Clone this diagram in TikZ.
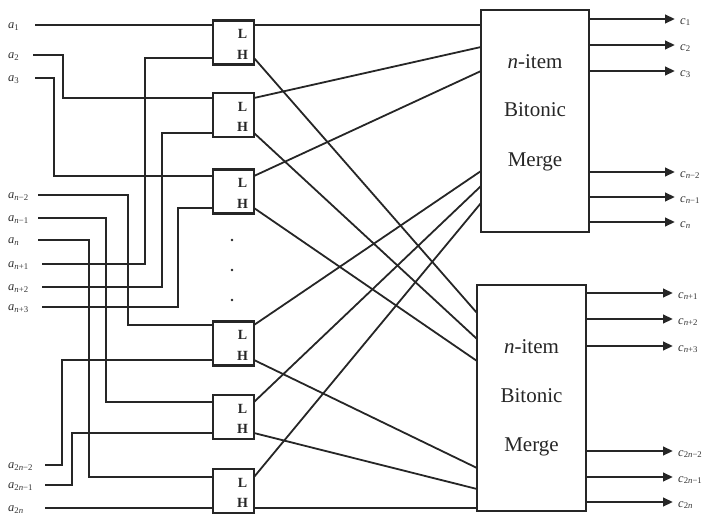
\documentclass[tikz,border=0pt]{standalone}
\usepackage{fontspec}
\setmainfont{Liberation Serif}
\usetikzlibrary{arrows.meta}
\newcommand\myN{{\itshape n}}
\newcommand\labA[1]{{\itshape a}\textsubscript{#1}}
\newcommand\labC[1]{{\itshape c}\textsubscript{#1}}
\begin{document}
\begin{tikzpicture}[x=1pt,y=-1pt,
  wire/.style={line width=1.8pt,black!85},
  cmp/.style={draw,line width=2.2pt,black!85,minimum width=41pt,minimum height=44pt,inner sep=0pt},
  mrg/.style={draw,line width=2.6pt,black!85,inner sep=0pt},
  inl/.style={anchor=base west,inner sep=0pt,font=\fontsize{12.5}{14}\selectfont,black!80},
  outl/.style={anchor=base west,inner sep=0pt,font=\fontsize{12.5}{14}\selectfont,black!80},
  lh/.style={font=\fontsize{14}{16}\selectfont\bfseries,inner sep=0pt,black!85},
  mtext/.style={font=\fontsize{21}{24}\selectfont,inner sep=0pt,black!85},
  outarr/.style={line width=2.4pt,black!85,-{Triangle[length=10pt,width=8.5pt]}},
  dot/.style={circle,fill=black!85,inner sep=0pt,minimum size=2.8pt}
]
\useasboundingbox (0,0) rectangle (706,514);

% comparator boxes
\foreach \i/\y in {1/42.5,2/115,3/191.5,4/343.5,5/417,6/491}{
  \node[cmp] (b\i) at (233.5,\y) {};
  \node[lh] (L\i) at (242.5,\y-8.5) {L};
  \node[lh] (H\i) at (242.5,\y+12) {H};
}
% comparator ports
\foreach \i/\t/\b in {1/25/58,2/98/133,3/176/208,4/325/360,5/402/433,6/477/508}{
  \coordinate (bt\i) at (213,\t);
  \coordinate (bb\i) at (213,\b);
  \coordinate (ol\i) at (254,\t);
  \coordinate (oh\i) at (254,\b);
}

% merge boxes
\node[mrg,minimum width=108pt,minimum height=222pt] (m1) at (535,121) {};
\node[mrg,minimum width=109pt,minimum height=226pt] (m2) at (531.5,398) {};
\node[mtext] (m1a) at (535,62) {\myN-item};
\node[mtext] (m1b) at (535,110) {Bitonic};
\node[mtext] (m1c) at (535,162) {Merge};
\node[mtext] (m2a) at (531.5,347) {\myN-item};
\node[mtext] (m2b) at (531.5,396) {Bitonic};
\node[mtext] (m2c) at (531.5,447) {Merge};

% merge input ports
\foreach \i/\y in {1/25,2/47,3/71,4/171,5/186,6/203}{
  \coordinate (mi\i) at (481,\y);
}
\foreach \i/\y in {1/313,2/339,3/361,4/468,5/489,6/508}{
  \coordinate (ni\i) at (477,\y);
}

% comparator -> merge wires
\foreach \i in {1,...,6}{
  \draw[wire] (ol\i) -- (mi\i);
  \draw[wire] (oh\i) -- (ni\i);
}

% input labels and start points
\node[inl] (la1) at (8,28.5) {\labA{1}};
\node[inl] (la2) at (8,58.5) {\labA{2}};
\node[inl] (la3) at (8,81.5) {\labA{3}};
\node[inl] (la4) at (8,198.5) {\labA{\myN−2}};
\node[inl] (la5) at (8,221.5) {\labA{\myN−1}};
\node[inl] (la6) at (8,243.5) {\labA{\myN}};
\node[inl] (la7) at (8,267.5) {\labA{\myN+1}};
\node[inl] (la8) at (8,290.5) {\labA{\myN+2}};
\node[inl] (la9) at (8,310.5) {\labA{\myN+3}};
\node[inl] (la10) at (8,468.5) {\labA{2\myN−2}};
\node[inl] (la11) at (8,488.5) {\labA{2\myN−1}};
\node[inl] (la12) at (8,511.5) {\labA{2\myN}};

\coordinate (sa1) at (35,25);
\coordinate (sa2) at (33,55);
\coordinate (sa3) at (35,78);
\coordinate (sa4) at (38,195);
\coordinate (sa5) at (38,218);
\coordinate (sa6) at (38,240);
\coordinate (sa7) at (42,264);
\coordinate (sa8) at (42,287);
\coordinate (sa9) at (42,307);
\coordinate (sa10) at (45,465);
\coordinate (sa11) at (45,485);
\coordinate (sa12) at (45,508);

% vertical routing columns
\coordinate (v2) at (63,0);
\coordinate (v3) at (54,0);
\coordinate (v4) at (128,0);
\coordinate (v5) at (106,0);
\coordinate (v6) at (89,0);
\coordinate (v7) at (145,0);
\coordinate (v8) at (162,0);
\coordinate (v9) at (178,0);
\coordinate (v10) at (62,0);
\coordinate (v11) at (72,0);

\draw[wire] (sa1) -- (bt1);
\draw[wire] (sa2) -| (v2 |- bt2) -- (bt2);
\draw[wire] (sa3) -| (v3 |- bt3) -- (bt3);
\draw[wire] (sa4) -| (v4 |- bt4) -- (bt4);
\draw[wire] (sa5) -| (v5 |- bt5) -- (bt5);
\draw[wire] (sa6) -| (v6 |- bt6) -- (bt6);
\draw[wire] (sa7) -| (v7 |- bb1) -- (bb1);
\draw[wire] (sa8) -| (v8 |- bb2) -- (bb2);
\draw[wire] (sa9) -| (v9 |- bb3) -- (bb3);
\draw[wire] (sa10) -| (v10 |- bb4) -- (bb4);
\draw[wire] (sa11) -| (v11 |- bb5) -- (bb5);
\draw[wire] (sa12) -- (bb6);

% dots
\node[dot] (d1) at (232,240) {};
\node[dot] (d2) at (232,270) {};
\node[dot] (d3) at (232,300) {};

% outputs
\foreach \k/\y/\lab in {1/19/{\labC{1}},2/45/{\labC{2}},3/71/{\labC{3}},4/172/{\labC{\myN−2}},5/197/{\labC{\myN−1}},6/222/{\labC{\myN}}}{
  \coordinate (mo\k) at (589,\y);
  \coordinate (tp\k) at (675,\y);
  \node[outl] (c\k) at (680,\y+5) {\lab};
  \draw[outarr] (mo\k) -- (tp\k);
}
\foreach \k/\y/\lab in {7/293/{\labC{\myN+1}},8/319/{\labC{\myN+2}},9/346/{\labC{\myN+3}},10/451/{\labC{2\myN−2}},11/477/{\labC{2\myN−1}},12/502/{\labC{2\myN}}}{
  \coordinate (mo\k) at (586,\y);
  \coordinate (tp\k) at (673,\y);
  \node[outl] (c\k) at (678,\y+5) {\lab};
  \draw[outarr] (mo\k) -- (tp\k);
}
\end{tikzpicture}
\end{document}
